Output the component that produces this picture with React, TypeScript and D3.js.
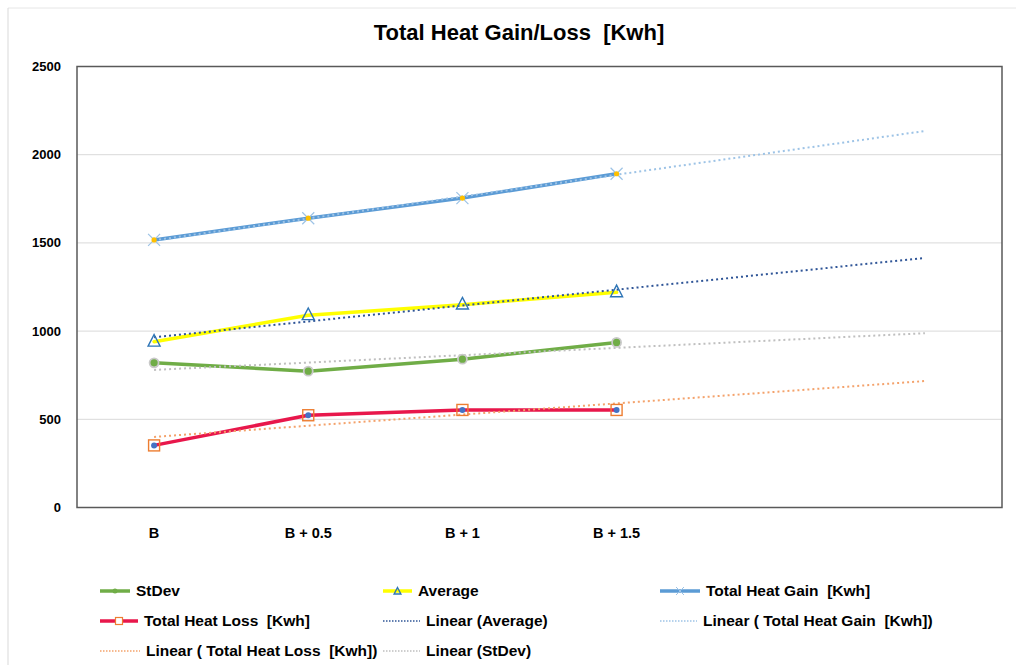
import React from "react";
import * as d3 from "d3";

const categories = ["B", "B + 0.5", "B + 1", "B + 1.5"];
const forecastPeriods = 2;
const yTicks = [0, 500, 1000, 1500, 2000, 2500];

const stDev = [820, 773, 841, 936];
const average = [940, 1090, 1150, 1220];
const totalHeatGain = [1517, 1640, 1754, 1892];
const totalHeatLoss = [352, 523, 553, 553];

const W = 1016;
const H = 665;
const M = { left: 77, right: 1002, top: 66.5, bottom: 507.5 };

const FONT = "'Liberation Sans', Arial, sans-serif";

function linReg(vals: number[]) {
  const xs = vals.map((_, i) => i + 1);
  const mx = d3.mean(xs) as number;
  const my = d3.mean(vals) as number;
  let num = 0, den = 0;
  xs.forEach((x, i) => { num += (x - mx) * (vals[i] - my); den += (x - mx) ** 2; });
  const b = num / den;
  const a = my - b * mx;
  return (x: number) => a + b * x;
}

export default function App() {
  const nBands = categories.length + forecastPeriods;
  const x = d3.scaleBand<number>().domain(d3.range(nBands)).range([M.left, M.right]).padding(0);
  const cx = (i: number) => (x(i) as number) + x.bandwidth() / 2;
  const y = d3.scaleLinear().domain([0, 2500]).range([M.bottom, M.top]);
  const line = d3.line<number>().x((_, i) => cx(i)).y((d) => y(d));

  const trend = (vals: number[]) => {
    const f = linReg(vals);
    const pts = d3.range(1, nBands + 1).map((k) => [cx(k - 1), y(f(k))] as [number, number]);
    return d3.line()(pts) as string;
  };

  const series = [
    { vals: stDev, color: "#70AD47" },
    { vals: average, color: "#FFFF00" },
    { vals: totalHeatGain, color: "#5B9BD5" },
    { vals: totalHeatLoss, color: "#E8174B" },
  ];
  const trends = [
    { vals: average, color: "#2F5597" },
    { vals: totalHeatGain, color: "#9DC3E6" },
    { vals: totalHeatLoss, color: "#F4A26B" },
    { vals: stDev, color: "#BFBFBF" },
  ];

  const tri = (px: number, py: number, s: number) =>
    `M${px},${py - s * 0.9} L${px + s * 0.75},${py + s * 0.55} L${px - s * 0.75},${py + s * 0.55} Z`;

  const markerStDev = (px: number, py: number, r = 4.5, k = "") => (
    <circle key={k} cx={px} cy={py} r={r} fill="#70AD47" stroke="#C9C9C9" strokeWidth={1.8} />
  );
  const markerAvg = (px: number, py: number, s = 8, k = "") => (
    <path key={k} d={tri(px, py, s)} fill="#fff" fillOpacity={0} stroke="#2E75B6" strokeWidth={1.4} />
  );
  const markerGain = (px: number, py: number, s = 6, k = "") => (
    <g key={k}>
      <path d={`M${px - s},${py - s}L${px + s},${py + s}M${px - s},${py + s}L${px + s},${py - s}`} stroke="#9DC3E6" strokeWidth={1.2} />
      <circle cx={px} cy={py} r={2.6} fill="#FFC000" />
    </g>
  );
  const markerLoss = (px: number, py: number, s = 5.5, k = "") => (
    <g key={k}>
      <rect x={px - s} y={py - s} width={2 * s} height={2 * s} fill="none" stroke="#ED7D31" strokeWidth={1.4} />
      <circle cx={px} cy={py} r={3} fill="#4472C4" />
    </g>
  );

  const legendRows = [591, 621, 651];
  const legendCols = [100, 383, 660];
  const legendItems: { label: string; col: number; row: number; len: number; kind: string; color: string }[] = [
    { label: "StDev", col: 0, row: 0, len: 30, kind: "stdev", color: "#70AD47" },
    { label: "Average", col: 1, row: 0, len: 29, kind: "avg", color: "#FFFF00" },
    { label: "Total Heat Gain  [Kwh]", col: 2, row: 0, len: 40, kind: "gain", color: "#5B9BD5" },
    { label: "Total Heat Loss  [Kwh]", col: 0, row: 1, len: 38, kind: "loss", color: "#E8174B" },
    { label: "Linear (Average)", col: 1, row: 1, len: 37, kind: "trend", color: "#2F5597" },
    { label: "Linear ( Total Heat Gain  [Kwh])", col: 2, row: 1, len: 37, kind: "trend", color: "#9DC3E6" },
    { label: "Linear ( Total Heat Loss  [Kwh])", col: 0, row: 2, len: 40, kind: "trend", color: "#F4A26B" },
    { label: "Linear (StDev)", col: 1, row: 2, len: 37, kind: "trend", color: "#BFBFBF" },
  ];

  return (
    <svg width={W} height={H} style={{ position: "absolute", left: 0, top: 0, background: "#fff", whiteSpace: "pre" }} fontFamily={FONT}>
      <rect x={0} y={0} width={W} height={H} fill="#fff" />
      <line x1={8} y1={8} x2={W} y2={8} stroke="#E6E6E6" />
      <line x1={8} y1={8} x2={8} y2={H} stroke="#D9D9D9" />

      <text x={519} y={40} textAnchor="middle" fontSize={22} fontWeight="bold" fill="#000" style={{ whiteSpace: "pre" }}>
        {"Total Heat Gain/Loss  [Kwh]"}
      </text>

      {yTicks.map((t) => (
        <g key={t}>
          {t > 0 && t < 2500 && <line x1={M.left} x2={M.right} y1={y(t)} y2={y(t)} stroke="#D9D9D9" strokeWidth={1} />}
          <text x={61} y={y(t) + 4.5} textAnchor="end" fontSize={13} fontWeight="bold" fill="#000">{t}</text>
        </g>
      ))}

      <rect x={M.left} y={M.top} width={M.right - M.left} height={M.bottom - M.top} fill="none" stroke="#595959" strokeWidth={1.5} />

      {categories.map((c, i) => (
        <text key={c} x={cx(i)} y={538} textAnchor="middle" fontSize={14.5} fontWeight="bold" fill="#000">{c}</text>
      ))}

      {series.map((s, i) => (
        <path key={i} d={line(s.vals) as string} fill="none" stroke={s.color} strokeWidth={3.5} strokeLinejoin="round" strokeLinecap="round" />
      ))}

      {trends.map((t, i) => (
        <path key={i} d={trend(t.vals)} fill="none" stroke={t.color} strokeWidth={2} strokeDasharray="2 3" />
      ))}

      {stDev.map((v, i) => markerStDev(cx(i), y(v), 4.5, "s" + i))}
      {average.map((v, i) => markerAvg(cx(i), y(v), 8, "a" + i))}
      {totalHeatGain.map((v, i) => markerGain(cx(i), y(v), 6, "g" + i))}
      {totalHeatLoss.map((v, i) => markerLoss(cx(i), y(v), 5.5, "l" + i))}

      {legendItems.map((it, i) => {
        const x0 = legendCols[it.col];
        const yy = legendRows[it.row];
        const mid = x0 + it.len / 2;
        let sample;
        if (it.kind === "trend") {
          sample = <line x1={x0} x2={x0 + it.len} y1={yy} y2={yy} stroke={it.color} strokeWidth={1.5} strokeDasharray="1.5 1.5" />;
        } else {
          sample = (
            <g>
              <line x1={x0} x2={x0 + it.len} y1={yy} y2={yy} stroke={it.color} strokeWidth={3.5} />
              {it.kind === "stdev" && <circle cx={mid} cy={yy} r={2.5} fill="#70AD47" />}
              {it.kind === "avg" && markerAvg(mid, yy + 0.5, 4.5)}
              {it.kind === "gain" && <path d={`M${mid - 4},${yy - 4}L${mid + 4},${yy + 4}M${mid - 4},${yy + 4}L${mid + 4},${yy - 4}`} stroke="#9DC3E6" strokeWidth={1} />}
              {it.kind === "loss" && <rect x={mid - 3.5} y={yy - 3.5} width={7} height={7} fill="#fff" stroke="#ED7D31" strokeWidth={1.2} />}
            </g>
          );
        }
        return (
          <g key={i}>
            {sample}
            <text x={x0 + it.len + 6} y={yy + 5} fontSize={15.5} fontWeight="bold" fill="#000" style={{ whiteSpace: "pre" }}>{it.label}</text>
          </g>
        );
      })}
    </svg>
  );
}
